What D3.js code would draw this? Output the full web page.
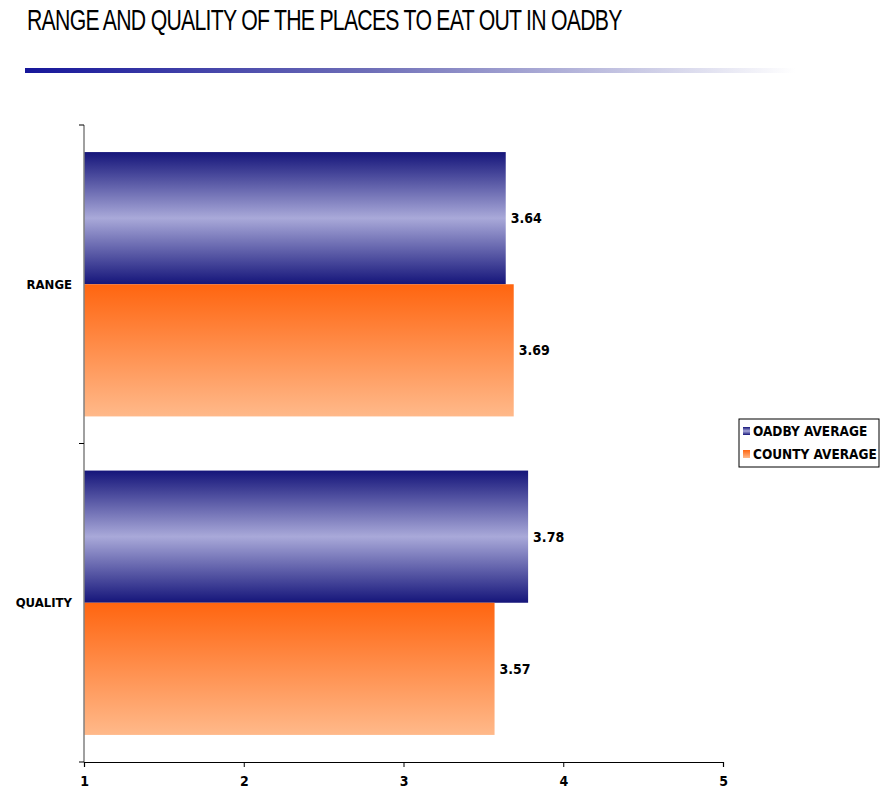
<!DOCTYPE html>
<html>
<head>
<meta charset="utf-8">
<script src="https://cdn.jsdelivr.net/npm/d3@7"></script>
<style>
  body { margin: 0; background: #fff; }
  svg { display: block; }
</style>
</head>
<body>
<svg id="chart" width="881" height="793"></svg>
<script>
// Survey averages (1-5 scale) for eating-out places
const categories = ["RANGE", "QUALITY"];
const seriesNames = ["OADBY AVERAGE", "COUNTY AVERAGE"];
const oadbyValues = [3.64, 3.78];
const countyValues = [3.69, 3.57];
const xTicks = [1, 2, 3, 4, 5];
const titleText = "RANGE AND QUALITY OF THE PLACES TO EAT OUT IN OADBY";

const svg = d3.select("#chart");
const defs = svg.append("defs");

// Title rule fading from navy to white
const rule = defs.append("linearGradient").attr("id", "rule").attr("x1", 0).attr("x2", 1);
rule.append("stop").attr("offset", 0).attr("stop-color", "#16169a");
rule.append("stop").attr("offset", 0.45).attr("stop-color", "#6f6fb8");
rule.append("stop").attr("offset", 1).attr("stop-color", "#ffffff");

// Bar fills
const gNavy = defs.append("linearGradient").attr("id", "gNavy").attr("x1", 0).attr("x2", 0).attr("y1", 0).attr("y2", 1);
gNavy.append("stop").attr("offset", 0).attr("stop-color", "#15157a");
gNavy.append("stop").attr("offset", 0.5).attr("stop-color", "#a9a9d9");
gNavy.append("stop").attr("offset", 1).attr("stop-color", "#15157a");
const gOrange = defs.append("linearGradient").attr("id", "gOrange").attr("x1", 0).attr("x2", 0).attr("y1", 0).attr("y2", 1);
gOrange.append("stop").attr("offset", 0).attr("stop-color", "#ff6510");
gOrange.append("stop").attr("offset", 1).attr("stop-color", "#ffb98a");
const fills = ["url(#gNavy)", "url(#gOrange)"];

// Title, squeezed horizontally into a narrow condensed look
const titleWidth = 595;
const title = svg.append("text")
  .attr("x", 0).attr("y", 0)
  .attr("font-family", "Liberation Sans, Arial, sans-serif")
  .attr("font-size", 29)
  .attr("letter-spacing", -1)
  .attr("fill", "#000")
  .text(titleText);
const natural = title.node().getComputedTextLength();
title.attr("transform", `translate(27,30) scale(${titleWidth / natural},1)`);

svg.append("rect")
  .attr("x", 25).attr("y", 68).attr("width", 770).attr("height", 5)
  .attr("fill", "url(#rule)");

// Scales
const x = d3.scaleLinear().domain([1, 5]).range([84, 723]);
const y = d3.scaleBand().domain(categories).range([125, 762]).paddingInner(0.17).paddingOuter(0.085);
const ySub = d3.scaleBand().domain(seriesNames).range([0, y.bandwidth()]);

const font = "DejaVu Sans Condensed, DejaVu Sans, Verdana, sans-serif";

// Bars
const rows = categories.map((c, i) => ({ cat: c, vals: [oadbyValues[i], countyValues[i]] }));
const groups = svg.selectAll("g.cat").data(rows).join("g")
  .attr("class", "cat")
  .attr("transform", d => `translate(0,${y(d.cat)})`);

groups.selectAll("rect").data(d => d.vals.map((v, j) => ({ v, s: seriesNames[j], j }))).join("rect")
  .attr("x", x(1))
  .attr("y", d => ySub(d.s))
  .attr("width", d => x(d.v) - x(1))
  .attr("height", ySub.bandwidth())
  .attr("fill", d => fills[d.j]);

groups.selectAll("text.val").data(d => d.vals.map((v, j) => ({ v, s: seriesNames[j] }))).join("text")
  .attr("class", "val")
  .attr("x", d => x(d.v) + 5)
  .attr("y", d => ySub(d.s) + ySub.bandwidth() / 2)
  .attr("dy", "0.35em")
  .attr("font-family", font).attr("font-weight", "bold").attr("font-size", 14)
  .attr("fill", "#000")
  .text(d => d.v.toFixed(2));

// Category labels, centred on the boundary between the two bars
svg.selectAll("text.cat").data(categories).join("text")
  .attr("class", "cat")
  .attr("x", 72)
  .attr("y", d => y(d) + y.bandwidth() / 2)
  .attr("dy", "0.35em")
  .attr("text-anchor", "end")
  .attr("font-family", font).attr("font-weight", "bold").attr("font-size", 13)
  .attr("fill", "#000")
  .text(d => d);

// Y axis line with ticks between categories
svg.append("line").attr("x1", 84).attr("x2", 84).attr("y1", 125).attr("y2", 762)
  .attr("stroke", "#808080").attr("stroke-width", 1.5);
const yTicks = [125, (y(categories[0]) + y.bandwidth() + y(categories[1])) / 2, 762];
svg.selectAll("line.ytick").data(yTicks).join("line")
  .attr("class", "ytick")
  .attr("x1", 79).attr("x2", 84).attr("y1", d => d).attr("y2", d => d)
  .attr("stroke", "#000").attr("stroke-width", 1);

// X axis
const xAxis = d3.axisBottom(x).tickValues(xTicks).tickFormat(d3.format("d")).tickSize(5).tickPadding(9);
const xg = svg.append("g").attr("transform", "translate(0,762)").call(xAxis);
xg.select(".domain").attr("stroke", "#000").attr("stroke-width", 1.2);
xg.selectAll(".tick line").attr("stroke", "#000");
xg.selectAll(".tick text")
  .attr("font-family", font).attr("font-weight", "bold").attr("font-size", 14).attr("fill", "#000");

// Legend
const lg = svg.append("g").attr("transform", "translate(739,419)");
lg.append("rect").attr("width", 140).attr("height", 48)
  .attr("fill", "#fff").attr("stroke", "#000").attr("stroke-width", 1);
seriesNames.forEach((s, i) => {
  lg.append("rect").attr("x", 4).attr("y", 8 + i * 23).attr("width", 7).attr("height", 8)
    .attr("fill", fills[i]);
  lg.append("text").attr("x", 14).attr("y", 12 + i * 23).attr("dy", "0.35em")
    .attr("font-family", font).attr("font-weight", "bold").attr("font-size", 13.5)
    .attr("fill", "#000").text(s);
});
</script>
</body>
</html>
